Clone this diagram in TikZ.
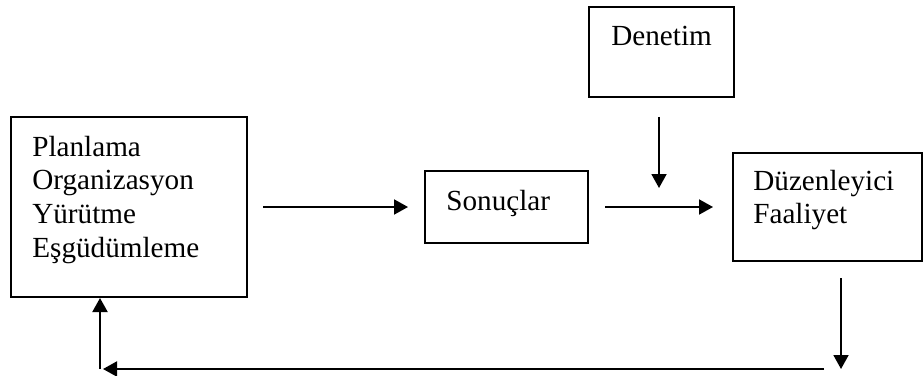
\documentclass[tikz,border=0pt]{standalone}
\usepackage{fontspec}
\setmainfont{Liberation Serif}
\usetikzlibrary{positioning}
\usetikzlibrary{arrows.meta}
\tikzset{
    mybox/.style = {rectangle, draw=black, line width=1.1pt, inner sep=0pt, outer sep=0pt},
    mytext/.style = {anchor=base west, inner sep=0pt, align=left, text width=4.5cm, font=\fontsize{16.6}{19.3}\selectfont, text=black},
    edgea/.style = {-{Triangle[length=0.28cm,width=0.30cm]}, line width=1.1pt, black}, % arrow
}

\begin{document}
\begin{tikzpicture}[scale=1.00,transform shape]
\useasboundingbox (0,0) rectangle (18.48,7.50);

\node[mybox, minimum width=4.72cm, minimum height=3.60cm] at ( 2.58, 3.36) (plan) {};
\node[mybox, minimum width=3.26cm, minimum height=1.44cm] at (10.13, 3.36) (son) {};
\node[mybox, minimum width=2.90cm, minimum height=1.80cm] at (13.23, 6.46) (den) {};
\node[mybox, minimum width=3.78cm, minimum height=2.16cm] at (16.55, 3.36) (duz) {};

\node[mytext] at ([shift={(0.42,-0.78)}]plan.north west) (plantext) {Planlama\\Organizasyon\\Yürütme\\Eşgüdümleme};
\node[mytext] at ([shift={(0.42,-0.78)}]son.north west) (sontext) {Sonuçlar};
\node[mytext] at ([shift={(0.44,-0.78)}]den.north west) (dentext) {Denetim};
\node[mytext] at ([shift={(0.40,-0.74)}]duz.north west) (duztext) {Düzenleyici\\Faaliyet};

\coordinate (kontrol) at (13.18, 3.36);
\coordinate (sag) at (16.82, 0.12);
\coordinate (sol) at ( 2.00, 0.12);

\draw[edgea, shorten <=0.32cm, shorten >=0.34cm] (plan) -- (son);
\draw[edgea, shorten <=0.34cm, shorten >=0.40cm] (son) -- (duz);
\draw[edgea, shorten <=0.40cm, shorten >=0.38cm] (den.south -| kontrol) -- (kontrol);
\draw[edgea, shorten <=0.34cm] (duz.south -| sag) -- (sag);
\draw[edgea, shorten <=0.34cm, shorten >=0.06cm] (sag) -- (sol);
\draw[edgea, shorten >=0.02cm] (sol) -- (plan.south -| sol);

\end{tikzpicture}
\end{document}
